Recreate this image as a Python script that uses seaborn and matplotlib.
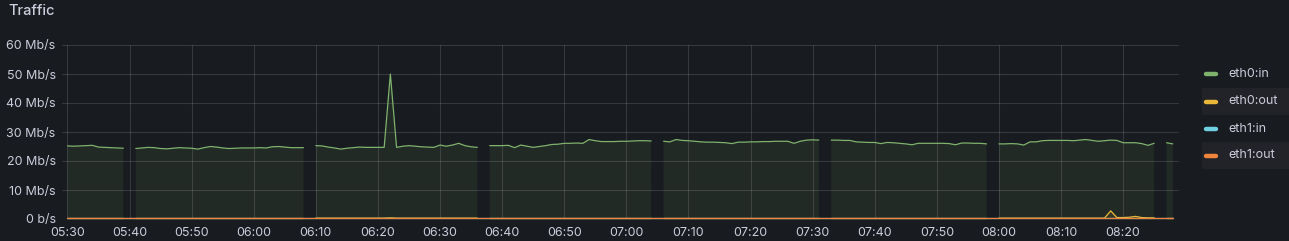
import numpy as np
import pandas as pd
import matplotlib
matplotlib.use("Agg")
import matplotlib.pyplot as plt
from matplotlib.lines import Line2D
from matplotlib.patches import Rectangle
import seaborn as sns

nan = np.nan

title = "Traffic"
series_names = ["eth0:in", "eth0:out", "eth1:in", "eth1:out"]
series_colors = ["#7EB26D", "#EAB839", "#6ED0E0", "#EF843C"]
x_tick_minutes = list(range(0, 171, 10))
x_tick_labels = ["05:30", "05:40", "05:50", "06:00", "06:10", "06:20", "06:30", "06:40",
                 "06:50", "07:00", "07:10", "07:20", "07:30", "07:40", "07:50", "08:00",
                 "08:10", "08:20"]
y_tick_values = [0, 10, 20, 30, 40, 50, 60]
y_tick_labels = ["0 b/s", "10 Mb/s", "20 Mb/s", "30 Mb/s", "40 Mb/s", "50 Mb/s", "60 Mb/s"]

# minutes since 05:30, one sample per minute
minutes = list(range(0, 179))

eth0_in = [
    25.2, 25.1, 25.2, 25.3, 25.4, 24.8, 24.7, 24.6, 24.5, 24.4,   # 0-9
    nan, 24.3, 24.5, 24.7, 24.6, 24.3, 24.2, 24.4, 24.6, 24.5,    # 10-19
    24.4, 24.1, 24.6, 25.0, 24.8, 24.5, 24.3, 24.4, 24.5, 24.5,   # 20-29
    24.5, 24.6, 24.5, 24.9, 25.0, 24.8, 24.6, 24.6, 24.6, nan,    # 30-39
    25.3, 25.2, 24.8, 24.5, 24.1, 24.4, 24.6, 24.8, 24.7, 24.7,   # 40-49
    24.7, 24.7, 50.0, 24.7, 25.1, 25.3, 25.1, 24.9, 24.8, 24.7,   # 50-59
    25.5, 25.1, 25.5, 26.1, 25.3, 24.9, 24.7, nan, 25.3, 25.3,    # 60-69
    25.3, 25.4, 24.6, 25.5, 25.1, 24.7, 25.0, 25.3, 25.7, 25.8,   # 70-79
    26.1, 26.1, 26.2, 26.1, 27.4, 27.0, 26.7, 26.7, 26.7, 26.8,   # 80-89
    26.8, 26.9, 27.0, 27.0, 26.9, nan, 26.8, 26.6, 27.4, 27.1,    # 90-99
    27.0, 26.8, 26.6, 26.5, 26.5, 26.4, 26.3, 26.0, 26.5, 26.5,   # 100-109
    26.6, 26.6, 26.7, 26.7, 26.8, 26.8, 26.8, 26.1, 26.8, 27.2,   # 110-119
    27.3, 27.2, nan, 27.2, 27.2, 27.1, 27.1, 26.6, 26.5, 26.4,    # 120-129
    26.4, 26.0, 26.4, 26.3, 26.1, 25.9, 25.6, 26.1, 26.1, 26.1,   # 130-139
    26.1, 26.1, 26.0, 25.6, 26.2, 26.2, 26.1, 26.1, 25.9, nan,    # 140-149
    25.9, 25.9, 26.0, 25.9, 25.5, 26.6, 26.6, 27.0, 27.1, 27.1,   # 150-159
    27.1, 27.1, 27.0, 27.2, 27.4, 27.1, 26.8, 27.0, 27.2, 27.1,   # 160-169
    26.3, 26.3, 26.3, 26.0, 25.4, 26.1, nan, 26.3, 25.9,          # 170-178
]

eth0_out = [
    0.3, 0.3, 0.3, 0.3, 0.3, 0.3, 0.3, 0.3, 0.3, 0.3,
    nan, 0.3, 0.3, 0.3, 0.3, 0.3, 0.3, 0.3, 0.3, 0.3,
    0.3, 0.3, 0.3, 0.3, 0.3, 0.3, 0.3, 0.3, 0.3, 0.3,
    0.3, 0.3, 0.3, 0.3, 0.3, 0.3, 0.3, 0.3, 0.3, nan,
    0.3, 0.3, 0.3, 0.3, 0.3, 0.3, 0.3, 0.3, 0.3, 0.3,
    0.3, 0.3, 0.4, 0.3, 0.3, 0.3, 0.3, 0.3, 0.3, 0.3,
    0.3, 0.3, 0.3, 0.3, 0.3, 0.3, 0.3, nan, 0.3, 0.3,
    0.3, 0.3, 0.3, 0.3, 0.3, 0.3, 0.3, 0.3, 0.3, 0.3,
    0.3, 0.3, 0.3, 0.3, 0.3, 0.3, 0.3, 0.3, 0.3, 0.3,
    0.3, 0.3, 0.3, 0.3, 0.3, nan, 0.3, 0.3, 0.3, 0.3,
    0.3, 0.3, 0.3, 0.3, 0.3, 0.3, 0.3, 0.3, 0.3, 0.3,
    0.3, 0.3, 0.3, 0.3, 0.3, 0.3, 0.3, 0.3, 0.3, 0.3,
    0.3, 0.3, nan, 0.3, 0.3, 0.3, 0.3, 0.3, 0.3, 0.3,
    0.3, 0.3, 0.3, 0.3, 0.3, 0.3, 0.3, 0.3, 0.3, 0.3,
    0.3, 0.3, 0.3, 0.3, 0.3, 0.3, 0.3, 0.3, 0.3, nan,
    0.3, 0.3, 0.3, 0.3, 0.3, 0.3, 0.3, 0.3, 0.3, 0.3,
    0.3, 0.3, 0.3, 0.3, 0.3, 0.3, 0.3, 0.3, 2.8, 0.5,
    0.5, 0.6, 0.9, 0.5, 0.4, 0.4, nan, 0.4, 0.4,
]

eth1_in = [0.25] * 179
eth1_out = [0.3] * 179

series_values = [eth0_in, eth0_out, eth1_in, eth1_out]

BG = "#181b1f"
TXT = "#ccccdc"

sns.set_theme(style="dark")
plt.rcParams["font.family"] = ["Inter", "DejaVu Sans"]

W, H = 1289, 241
fig = plt.figure(figsize=(W / 100, H / 100), dpi=100, facecolor=BG)
ax = fig.add_axes([62 / W, (H - 219) / H, (1179 - 62) / W, (219 - 45) / H])
ax.set_facecolor(BG)

# long-form data, segmented at null points so lines break like Grafana
frames = []
for name, vals in zip(series_names, series_values):
    v = np.array(vals, dtype=float)
    seg = np.cumsum(np.isnan(v))
    frames.append(pd.DataFrame({"minute": minutes, "value": v, "series": name, "segment": seg}))
df = pd.concat(frames, ignore_index=True)

palette = dict(zip(series_names, series_colors))
for name, color in zip(series_names, series_colors):
    sub = df[df["series"] == name]
    ax.fill_between(sub["minute"], 0, sub["value"], color=color, alpha=0.1, linewidth=0, zorder=2)

sns.lineplot(data=df, x="minute", y="value", hue="series", units="segment",
             estimator=None, palette=palette, hue_order=series_names,
             linewidth=0.9, legend=False, ax=ax, zorder=3)
for ln in ax.lines:
    ln.set_clip_on(False)

ax.set_xlim(-0.88, 179.0)
ax.set_ylim(0, 60)
ax.set_xticks(x_tick_minutes)
ax.set_xticklabels(x_tick_labels)
ax.set_yticks(y_tick_values)
ax.set_yticklabels(y_tick_labels)
ax.set_xlabel("")
ax.set_ylabel("")
ax.tick_params(axis="both", length=0, colors=TXT, labelsize=9)
ax.tick_params(axis="x", pad=5.5)
ax.tick_params(axis="y", pad=4.5)
ax.grid(True, color=TXT, alpha=0.17, linewidth=0.8, zorder=1)
ax.set_axisbelow(True)
for s in ax.spines.values():
    s.set_visible(False)

fig.text(8 / W, 1 - 11 / H, title, color=TXT, fontsize=10.5, fontweight="medium",
         ha="left", va="center")

# legend (right side list)
row_centers = [74.3, 101.5, 128.5, 155.5]
for i, (name, color) in enumerate(zip(series_names, series_colors)):
    yc = row_centers[i]
    if i % 2 == 1:
        fig.add_artist(Rectangle((1202 / W, 1 - (yc + 13.3) / H), (W - 1202) / W, 26.6 / H,
                                 transform=fig.transFigure, facecolor="#212328",
                                 edgecolor="none", zorder=0))
    fig.add_artist(Line2D([1206 / W, 1216 / W], [1 - yc / H, 1 - yc / H],
                          transform=fig.transFigure, color=color, linewidth=3.2,
                          solid_capstyle="round"))
    fig.text(1228 / W, 1 - yc / H, name, color=TXT, fontsize=9, ha="left", va="center")

fig.savefig("out.png", dpi=100, facecolor=BG)
